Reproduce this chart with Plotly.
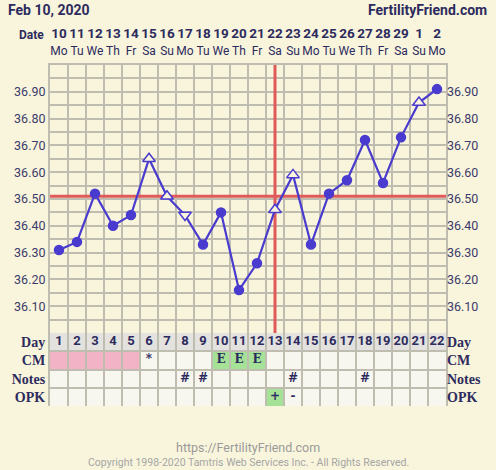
import plotly.graph_objects as go

# ---------------- data ----------------
days = list(range(1, 23))
dates = [10, 11, 12, 13, 14, 15, 16, 17, 18, 19, 20, 21, 22, 23, 24, 25, 26, 27, 28, 29, 1, 2]
weekdays = ["Mo", "Tu", "We", "Th", "Fr", "Sa", "Su", "Mo", "Tu", "We", "Th",
            "Fr", "Sa", "Su", "Mo", "Tu", "We", "Th", "Fr", "Sa", "Su", "Mo"]
temps = [36.31, 36.34, 36.52, 36.40, 36.44, 36.65, 36.51, 36.44, 36.33, 36.45, 36.16,
         36.26, 36.46, 36.59, 36.33, 36.52, 36.57, 36.72, 36.56, 36.73, 36.86, 36.91]
# "c" = recorded temp, "u" = open triangle up, "d" = open triangle down
temp_kind = ["c", "c", "c", "c", "c", "u", "u", "d", "c", "c", "c",
             "c", "u", "u", "c", "c", "c", "c", "c", "c", "u", "c"]
coverline = 36.51
ovulation_day = 13
period_days = [1, 2, 3, 4, 5]
cm = ["", "", "", "", "", "*", "", "", "", "E", "E", "E", "", "", "", "", "", "", "", "", "", ""]
notes = ["", "", "", "", "", "", "", "#", "#", "", "", "", "", "#", "", "", "", "#", "", "", "", ""]
opk = ["", "", "", "", "", "", "", "", "", "", "", "", "+", "-", "", "", "", "", "", "", "", ""]
row_labels = ["Day", "CM", "Notes", "OPK"]
temp_ticks = [36.10, 36.20, 36.30, 36.40, 36.50, 36.60, 36.70, 36.80, 36.90]

# ---------------- style ----------------
BG = "#f9f5dc"
GRID = "#bfbcb0"
NAVY = "#2d2b5e"
BLUE = "#4a3bcf"
RED = "#e05a5a"
PINK = "#f3b3c7"
GREEN = "#a5e298"
CELL = "#f7f6ef"
DAYROW = "#e3e2de"

W, H = 496, 470
L, R, T, B = 50, 50, 65, 64
plot_h = H - T - B            # 341
table_h = 73
split = table_h / plot_h

def px_x(px):
    return (px - L) / (W - L - R)

def px_y(py):
    return (H - B - py) / plot_h

fig = go.Figure()

# temperature line
symbols = {"c": "circle", "u": "triangle-up", "d": "triangle-down"}
fig.add_trace(go.Scatter(
    x=days, y=temps, mode="lines+markers",
    line=dict(color=BLUE, width=2.2),
    marker=dict(
        symbol=[symbols[k] for k in temp_kind],
        size=[9 if k == "c" else 11 for k in temp_kind],
        color=[BLUE if k == "c" else BG for k in temp_kind],
        opacity=1,
        line=dict(color=BLUE, width=1.5),
    ),
    xaxis="x", yaxis="y", hoverinfo="skip", showlegend=False,
))

# invisible traces to activate helper axes
fig.add_trace(go.Scatter(x=days, y=temps, xaxis="x2", yaxis="y", mode="markers",
                         marker=dict(opacity=0), showlegend=False, hoverinfo="skip"))
fig.add_trace(go.Scatter(x=days, y=temps, xaxis="x", yaxis="y3", mode="markers",
                         marker=dict(opacity=0), showlegend=False, hoverinfo="skip"))
fig.add_trace(go.Scatter(x=[1, 1, 1, 1], y=[0.5, 1.5, 2.5, 3.5], xaxis="x", yaxis="y4",
                         mode="markers", marker=dict(opacity=0), showlegend=False,
                         hoverinfo="skip"))

# table texts
fig.add_trace(go.Scatter(
    x=days, y=[0.5] * len(days), mode="text", text=[str(d) for d in days],
    textfont=dict(family="Roboto", size=13, color=NAVY, weight="bold"),
    xaxis="x", yaxis="y2", hoverinfo="skip", showlegend=False,
))
for row, vals in ((1.5, cm), (2.5, notes), (3.5, opk)):
    xs = [d for d, v in zip(days, vals) if v]
    ts = [v for v in vals if v]
    fig.add_trace(go.Scatter(
        x=xs, y=[row] * len(xs), mode="text", text=ts,
        textfont=dict(family="DejaVu Serif", size=12, color=NAVY, weight="bold"),
        xaxis="x", yaxis="y2", hoverinfo="skip", showlegend=False,
    ))

# table cell fills
shapes = []
for d in days:
    shapes.append(dict(type="rect", xref="x", yref="y2", x0=d - 0.5, x1=d + 0.5, y0=0, y1=1,
                       fillcolor=DAYROW, line=dict(width=0), layer="below"))
    cm_fill = PINK if d in period_days else (GREEN if cm[d - 1] == "E" else CELL)
    shapes.append(dict(type="rect", xref="x", yref="y2", x0=d - 0.5, x1=d + 0.5, y0=1, y1=2,
                       fillcolor=cm_fill, line=dict(width=0), layer="below"))
    shapes.append(dict(type="rect", xref="x", yref="y2", x0=d - 0.5, x1=d + 0.5, y0=2, y1=3,
                       fillcolor=CELL, line=dict(width=0), layer="below"))
    opk_fill = GREEN if opk[d - 1] == "+" else CELL
    shapes.append(dict(type="rect", xref="x", yref="y2", x0=d - 0.5, x1=d + 0.5, y0=3, y1=4,
                       fillcolor=opk_fill, line=dict(width=0), layer="below"))

# coverline and ovulation line
shapes.append(dict(type="line", xref="x", yref="y", x0=0.5, x1=22.5, y0=coverline, y1=coverline,
                   line=dict(color=RED, width=3), layer="between"))
shapes.append(dict(type="line", xref="x", yref="y", x0=ovulation_day, x1=ovulation_day, y0=36.0, y1=37.0,
                   line=dict(color=RED, width=3), layer="between"))

fig.update_layout(shapes=shapes)

axis_font = dict(family="Roboto", size=12.5, color="#3b3a6b")
label_font = dict(family="Liberation Serif", size=14, color=NAVY, weight="bold")

fig.update_layout(
    width=W, height=H,
    margin=dict(l=L, r=R, t=T, b=B, pad=0, autoexpand=False),
    paper_bgcolor=BG, plot_bgcolor=BG,
    xaxis=dict(range=[0.5, 22.5], domain=[0, 1], anchor="y", showticklabels=False,
               tick0=0.5, dtick=1, showgrid=True, gridcolor=GRID, gridwidth=2,
               zeroline=False, showline=True, linecolor=GRID, linewidth=2, mirror=True,
               ticks="", automargin=False),
    xaxis2=dict(range=[0.5, 22.5], overlaying="x", side="top", anchor="y",
                tickvals=days, tickangle=0, ticklabelstandoff=6,
                ticktext=[f"<b>{d}</b><br><span style='font-size:12px'>{w}</span>"
                          for d, w in zip(dates, weekdays)],
                tickfont=dict(family="Roboto", size=13.5, color=NAVY),
                showgrid=False, zeroline=False, ticks="", showline=False, automargin=False),
    yaxis=dict(domain=[split, 1], range=[36.0, 37.0], anchor="x",
               tickvals=temp_ticks, ticktext=[f"{v:.2f}" for v in temp_ticks],
               tickfont=axis_font, showgrid=True, gridcolor=GRID, gridwidth=2,
               minor=dict(tick0=36.0, dtick=0.05, showgrid=True, gridcolor=GRID, gridwidth=2),
               zeroline=False, ticks="", showline=True, linecolor=GRID, linewidth=2, mirror=True,
               automargin=False),
    yaxis3=dict(overlaying="y", side="right", range=[36.0, 37.0], anchor="x",
                tickvals=temp_ticks, ticktext=[f"{v:.2f}" for v in temp_ticks],
                tickfont=axis_font, showgrid=False, zeroline=False, ticks="", automargin=False),
    yaxis2=dict(domain=[0, split], range=[4, 0], anchor="x",
                tickvals=[0.5, 1.5, 2.5, 3.5], ticktext=row_labels, tickfont=label_font,
                showgrid=False, zeroline=False, ticks="",
                minor=dict(tick0=0, dtick=1, showgrid=True, gridcolor=GRID, gridwidth=2),
                showline=True, linecolor=GRID, linewidth=2, mirror=True, automargin=False),
    yaxis4=dict(overlaying="y2", side="right", range=[4, 0], anchor="x",
                tickvals=[0.5, 1.5, 2.5, 3.5], ticktext=row_labels, tickfont=label_font,
                showgrid=False, zeroline=False, ticks="", automargin=False),
)

fig.add_annotation(text="<b>Feb 10, 2020</b>", xref="paper", yref="paper",
                   x=px_x(6), y=px_y(10), xanchor="left", yanchor="middle", showarrow=False,
                   font=dict(family="Roboto", size=14, color=NAVY))
fig.add_annotation(text="<b>FertilityFriend.com</b>", xref="paper", yref="paper",
                   x=px_x(489), y=px_y(10), xanchor="right", yanchor="middle", showarrow=False,
                   font=dict(family="Roboto", size=14, color=NAVY))
fig.add_annotation(text="<b>Date</b>", xref="paper", yref="paper",
                   x=px_x(46), y=px_y(35), xanchor="right", yanchor="middle", showarrow=False,
                   font=dict(family="Roboto", size=12, color=NAVY))
fig.add_annotation(text="https://FertilityFriend.com", xref="paper", yref="paper",
                   x=0.5, y=px_y(448), xanchor="center", yanchor="middle", showarrow=False,
                   font=dict(family="Roboto", size=12.5, color="#9a9a9a"))
fig.add_annotation(text="Copyright 1998-2020 Tamtris Web Services Inc. - All Rights Reserved.",
                   xref="paper", yref="paper",
                   x=0.5, y=px_y(462), xanchor="center", yanchor="middle", showarrow=False,
                   font=dict(family="Roboto", size=10.5, color="#a5a5a5"))

fig.write_html("out.html",
               config={"displayModeBar": False, "staticPlot": True},
               post_script="document.body.style.margin='0';document.body.style.background='%s';" % BG)
